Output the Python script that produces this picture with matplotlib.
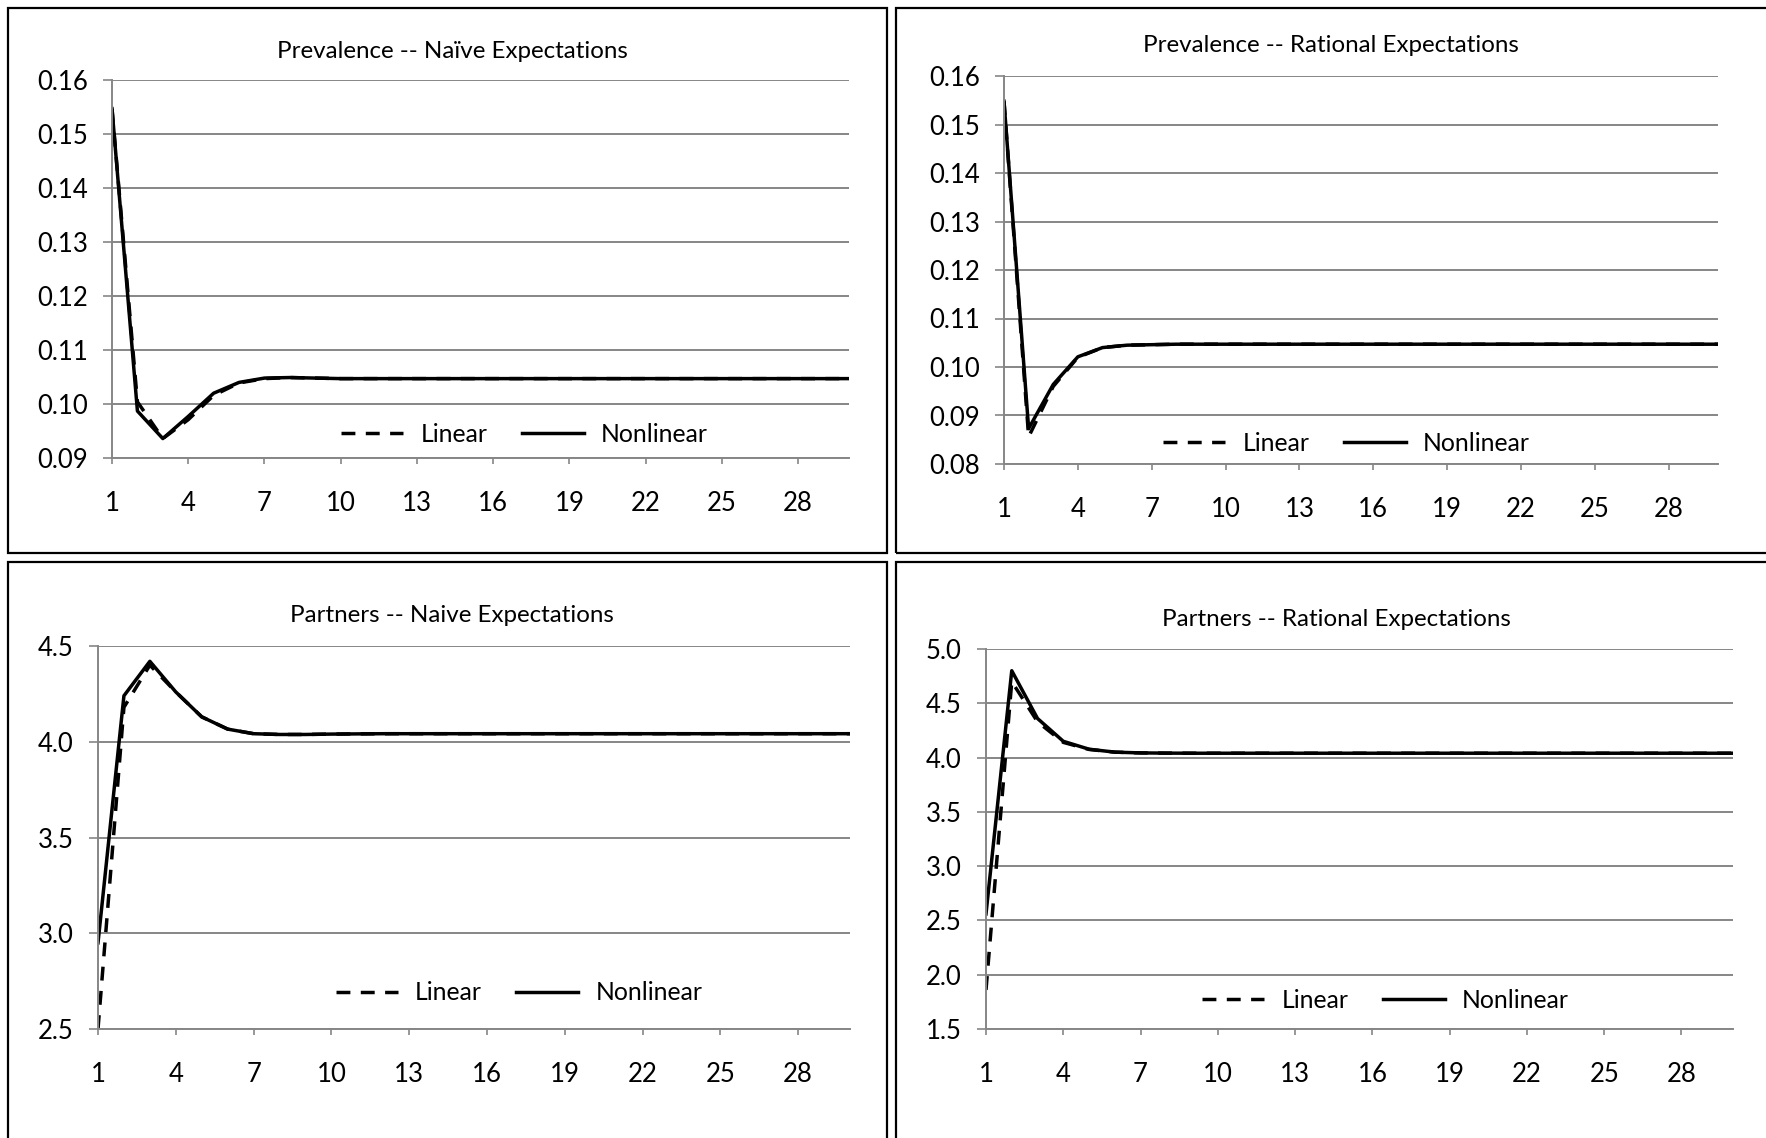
import matplotlib
matplotlib.use("Agg")
import matplotlib.pyplot as plt
from matplotlib.patches import Rectangle
from matplotlib.ticker import FormatStrFormatter

plt.rcParams['font.family'] = ['Lato', 'DejaVu Sans']

periods = list(range(1, 31))
x_ticks = [1, 4, 7, 10, 13, 16, 19, 22, 25, 28]

# Prevalence -- naive expectations
prev_naive_linear = [0.1547, 0.1004, 0.0936, 0.0971, 0.1016, 0.1039, 0.1047, 0.1049, 0.1048, 0.1047,
                     0.1047, 0.1047, 0.1047, 0.1047, 0.1047, 0.1047, 0.1047, 0.1047, 0.1047, 0.1047,
                     0.1047, 0.1047, 0.1047, 0.1047, 0.1047, 0.1047, 0.1047, 0.1047, 0.1047, 0.1047]
prev_naive_nonlinear = [0.1547, 0.0987, 0.0936, 0.0977, 0.1020, 0.1040, 0.1048, 0.1049, 0.1048, 0.1047,
                        0.1047, 0.1047, 0.1047, 0.1047, 0.1047, 0.1047, 0.1047, 0.1047, 0.1047, 0.1047,
                        0.1047, 0.1047, 0.1047, 0.1047, 0.1047, 0.1047, 0.1047, 0.1047, 0.1047, 0.1047]

# Prevalence -- rational expectations
prev_rational_linear = [0.1548, 0.0856, 0.0960, 0.1020, 0.1040, 0.1045, 0.1046, 0.1047, 0.1047, 0.1047,
                        0.1047, 0.1047, 0.1047, 0.1047, 0.1047, 0.1047, 0.1047, 0.1047, 0.1047, 0.1047,
                        0.1047, 0.1047, 0.1047, 0.1047, 0.1047, 0.1047, 0.1047, 0.1047, 0.1047, 0.1047]
prev_rational_nonlinear = [0.1548, 0.0873, 0.0964, 0.1021, 0.1040, 0.1045, 0.1046, 0.1047, 0.1047, 0.1047,
                           0.1047, 0.1047, 0.1047, 0.1047, 0.1047, 0.1047, 0.1047, 0.1047, 0.1047, 0.1047,
                           0.1047, 0.1047, 0.1047, 0.1047, 0.1047, 0.1047, 0.1047, 0.1047, 0.1047, 0.1047]

# Partners -- naive expectations
part_naive_linear = [2.50, 4.18, 4.40, 4.26, 4.13, 4.066, 4.042, 4.038, 4.038, 4.040,
                     4.041, 4.042, 4.042, 4.042, 4.042, 4.042, 4.042, 4.042, 4.042, 4.042,
                     4.042, 4.042, 4.042, 4.042, 4.042, 4.042, 4.042, 4.042, 4.042, 4.042]
part_naive_nonlinear = [2.95, 4.24, 4.42, 4.26, 4.13, 4.066, 4.042, 4.038, 4.038, 4.040,
                        4.041, 4.042, 4.042, 4.042, 4.042, 4.042, 4.042, 4.042, 4.042, 4.042,
                        4.042, 4.042, 4.042, 4.042, 4.042, 4.042, 4.042, 4.042, 4.042, 4.042]

# Partners -- rational expectations
part_rational_linear = [1.86, 4.70, 4.33, 4.14, 4.075, 4.050, 4.043, 4.041, 4.040, 4.040,
                        4.040, 4.040, 4.040, 4.040, 4.040, 4.040, 4.040, 4.040, 4.040, 4.040,
                        4.040, 4.040, 4.040, 4.040, 4.040, 4.040, 4.040, 4.040, 4.040, 4.040]
part_rational_nonlinear = [2.56, 4.80, 4.36, 4.15, 4.077, 4.050, 4.043, 4.041, 4.040, 4.040,
                           4.040, 4.040, 4.040, 4.040, 4.040, 4.040, 4.040, 4.040, 4.040, 4.040,
                           4.040, 4.040, 4.040, 4.040, 4.040, 4.040, 4.040, 4.040, 4.040, 4.040]

W, H = 1766, 1138
fig = plt.figure(figsize=(W / 100, H / 100), dpi=100)

GRID = "#868686"
FS = 18.5          # tick labels
FS_LEG = 17.8
FS_TITLE = 17.4


def frame(left, top, right, bottom, lw=1.6):
    fig.add_artist(Rectangle((left / W, 1 - bottom / H), (right - left) / W, (bottom - top) / H,
                             transform=fig.transFigure, fill=False, edgecolor="black", linewidth=lw))


def panel(box, title, title_xy, linear, nonlinear, ylim, ystep, yfmt, leg_xy):
    left, top, right, bottom = box
    ax = fig.add_axes([left / W, 1 - bottom / H, (right - left) / W, (bottom - top) / H])
    ax.plot(periods, linear, color="black", lw=2.5, linestyle=(0, (4, 3)), dash_capstyle="butt", label="Linear")
    ax.plot(periods, nonlinear, color="black", lw=2.5, label="Nonlinear")
    ax.set_xlim(1, 30)
    ax.set_ylim(*ylim)
    yt = []
    v = ylim[0]
    while v <= ylim[1] + 1e-9:
        yt.append(v)
        v += ystep
    ax.set_yticks(yt)
    ax.yaxis.set_major_formatter(FormatStrFormatter(yfmt))
    ax.set_xticks(x_ticks)
    ax.grid(axis="y", color=GRID, lw=1.4)
    ax.set_axisbelow(True)
    for s in ["top", "right"]:
        ax.spines[s].set_visible(False)
    for s in ["left", "bottom"]:
        ax.spines[s].set_color(GRID)
        ax.spines[s].set_linewidth(1.4)
    ax.tick_params(axis="y", length=6.5, width=1.2, color=GRID, pad=11, labelsize=FS)
    ax.tick_params(axis="x", length=4.5, width=1.2, color=GRID, pad=19, labelsize=FS)
    ax.legend(loc="center", bbox_to_anchor=leg_xy, ncol=2, frameon=False, fontsize=FS_LEG,
              handlelength=2.5, handletextpad=0.7, columnspacing=1.4)
    fig.text(title_xy[0] / W, 1 - title_xy[1] / H, title, ha="center", va="center", fontsize=FS_TITLE)
    return ax


frame(8, 8, 887, 553)
frame(896, 8, 1800, 553)
frame(8, 562, 887, 1200)
frame(896, 562, 1800, 1200)

panel((112, 80, 849, 458), "Prevalence -- Naïve Expectations", (452, 51),
      prev_naive_linear, prev_naive_nonlinear, (0.09, 0.16), 0.01, "%.2f", (0.56, 0.063))
panel((1004, 76, 1718, 464), "Prevalence -- Rational Expectations", (1331, 45),
      prev_rational_linear, prev_rational_nonlinear, (0.08, 0.16), 0.01, "%.2f", (0.48, 0.054))
panel((98, 646, 850, 1029), "Partners -- Naive Expectations", (452, 616),
      part_naive_linear, part_naive_nonlinear, (2.5, 4.5), 0.5, "%.1f", (0.56, 0.094))
panel((986, 649, 1733, 1029), "Partners -- Rational Expectations", (1336, 619),
      part_rational_linear, part_rational_nonlinear, (1.5, 5.0), 0.5, "%.1f", (0.535, 0.076))

fig.savefig("out.png", dpi=100)
